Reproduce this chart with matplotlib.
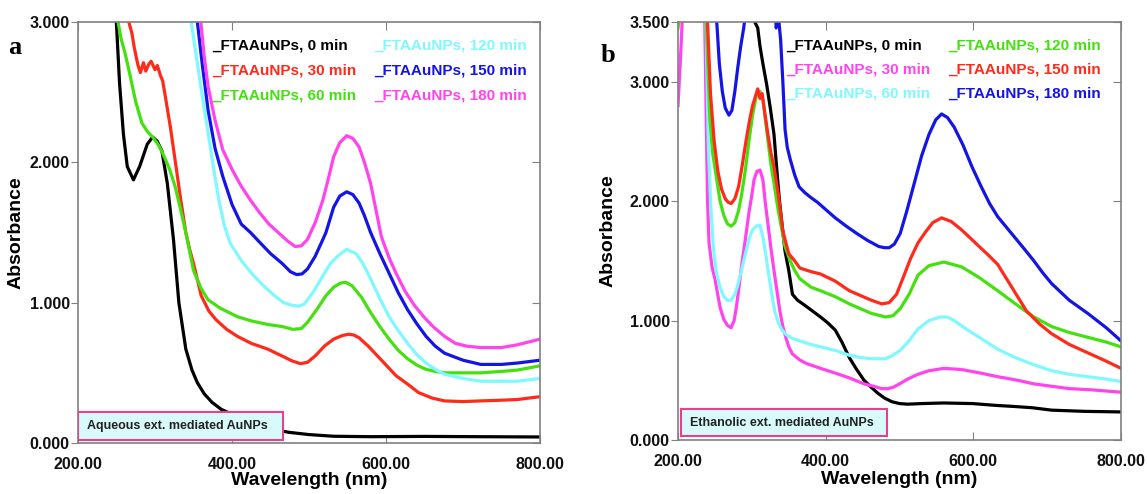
import matplotlib
matplotlib.use("Agg")
import matplotlib.pyplot as plt
from matplotlib.patches import Rectangle

plt.rcParams['font.family'] = ['Liberation Sans', 'DejaVu Sans']

# ---------------- panel a : aqueous extract ----------------
a_labels = ["FTAAuNPs, 0 min", "FTAAuNPs, 30 min", "FTAAuNPs, 60 min",
            "FTAAuNPs, 120 min", "FTAAuNPs, 150 min", "FTAAuNPs, 180 min"]
a_colors = ["#000000", "#ff2a1a", "#44e010", "#80f8ff", "#1414e6", "#ff44ee"]

a0_wl = [245, 250, 254, 259, 264, 272, 280, 290, 297, 303, 309, 316, 324, 331, 340, 348, 355,
         364, 374, 386, 398, 415, 436, 455, 474, 500, 532, 580, 650, 720, 800]
a0_ab = [3.3, 2.98, 2.56, 2.2, 1.97, 1.875, 1.97, 2.13, 2.18, 2.15, 2.08, 1.85, 1.45, 1.0, 0.67,
         0.52, 0.43, 0.35, 0.29, 0.24, 0.21, 0.16, 0.12, 0.095, 0.076, 0.06, 0.048, 0.045, 0.047,
         0.045, 0.043]

a30_wl = [262, 266, 270, 273, 276, 278, 281, 285, 288, 292, 295, 300, 303, 307, 310, 314, 320,
          326, 333, 340, 345, 350, 360, 370, 379, 393, 407, 425, 446, 465, 478, 489, 498, 508,
          520, 532, 543, 551, 558, 565, 577, 589, 601, 613, 628, 642, 660, 676, 700, 723, 750,
          771, 800]
a30_ab = [3.3, 3.0, 2.92, 2.82, 2.74, 2.69, 2.64, 2.71, 2.65, 2.70, 2.72, 2.66, 2.69, 2.62, 2.58,
          2.45, 2.25, 2.02, 1.75, 1.5, 1.38, 1.28, 1.05, 0.94, 0.88, 0.81, 0.76, 0.71, 0.67, 0.62,
          0.585, 0.565, 0.575, 0.62, 0.69, 0.74, 0.765, 0.775, 0.77, 0.75, 0.69, 0.62, 0.55,
          0.48, 0.42, 0.36, 0.32, 0.30, 0.295, 0.30, 0.305, 0.31, 0.33]

a60_wl = [248, 252, 256, 261, 268, 275, 283, 290, 297, 305, 312, 319, 326, 333, 340, 350, 360,
          369, 385, 407, 425, 446, 465, 479, 490, 498, 510, 522, 532, 541, 548, 556, 568, 580,
          592, 604, 616, 628, 640, 652, 664, 676, 700, 723, 750, 771, 800]
a60_ab = [3.3, 3.0, 2.88, 2.78, 2.61, 2.43, 2.28, 2.22, 2.18, 2.12, 2.04, 1.95, 1.83, 1.67, 1.5,
          1.23, 1.1, 1.02, 0.96, 0.90, 0.87, 0.845, 0.83, 0.81, 0.815, 0.86, 0.95, 1.05, 1.11,
          1.14, 1.145, 1.12, 1.04, 0.93, 0.83, 0.74, 0.66, 0.60, 0.555, 0.525, 0.51, 0.50, 0.50,
          0.50, 0.51, 0.52, 0.55]

a120_wl = [343, 347, 353, 359, 364, 369, 376, 383, 390, 398, 412, 427, 441, 455, 467, 479, 487,
           494, 506, 518, 528, 537, 549, 561, 570, 580, 592, 604, 616, 628, 640, 652, 664, 676,
           700, 723, 750, 771, 800]
a120_ab = [3.3, 3.0, 2.78, 2.56, 2.38, 2.21, 1.96, 1.73, 1.55, 1.42, 1.3, 1.2, 1.12, 1.05, 1.0,
           0.98, 0.975, 0.99, 1.08, 1.19, 1.28, 1.33, 1.38, 1.35, 1.28, 1.17, 1.03, 0.9, 0.8,
           0.71, 0.63, 0.57, 0.525, 0.49, 0.46, 0.44, 0.44, 0.44, 0.46]

a150_wl = [350, 355, 362, 369, 378, 388, 400, 412, 424, 436, 450, 465, 476, 484, 491, 498, 508,
           518, 522, 532, 540, 549, 557, 565, 572, 580, 592, 604, 616, 628, 640, 652, 664, 676,
           700, 723, 750, 771, 800]
a150_ab = [3.3, 3.0, 2.67, 2.37, 2.1, 1.9, 1.7, 1.56, 1.5, 1.43, 1.35, 1.28, 1.22, 1.2, 1.205,
           1.24, 1.33, 1.45, 1.5, 1.68, 1.76, 1.79, 1.77, 1.71, 1.62, 1.5, 1.35, 1.21, 1.07, 0.95,
           0.85, 0.76, 0.69, 0.64, 0.59, 0.56, 0.56, 0.57, 0.59]

a180_wl = [355, 359.5, 364, 369, 378, 388, 400, 412, 424, 436, 448, 460, 472, 482, 490, 498,
           508, 518, 525, 532, 540, 549, 557, 565, 572, 580, 587, 594, 604, 613, 625, 637, 649,
           661, 676, 690, 705, 723, 750, 771, 800]
a180_ab = [3.3, 3.0, 2.75, 2.54, 2.3, 2.09, 1.95, 1.83, 1.73, 1.64, 1.56, 1.5, 1.44, 1.40, 1.405,
           1.45, 1.57, 1.73, 1.88, 2.04, 2.14, 2.19, 2.17, 2.11, 2.0, 1.85, 1.66, 1.47, 1.32,
           1.21, 1.08, 0.98, 0.9, 0.83, 0.76, 0.71, 0.69, 0.68, 0.68, 0.70, 0.74]

# ---------------- panel b : ethanolic extract ----------------
b_labels = ["FTAAuNPs, 0 min", "FTAAuNPs, 30 min", "FTAAuNPs, 60 min",
            "FTAAuNPs, 120 min", "FTAAuNPs, 150 min", "FTAAuNPs, 180 min"]
b_colors = ["#000000", "#ff44ee", "#80f8ff", "#44e010", "#ff2a1a", "#1414e6"]

b0_wl = [292, 296, 300, 304, 308, 311, 315, 320, 325, 330, 334, 337.5, 341, 345, 350, 355, 362,
         369, 380, 393, 403, 413, 422, 432, 442, 452, 462, 471, 480, 490, 500, 511, 530, 560, 599,
         630, 657, 680, 706, 750, 800]
b0_ab = [3.7, 3.52, 3.6, 3.5, 3.45, 3.3, 3.15, 2.98, 2.78, 2.56, 2.25, 2.0, 1.8, 1.58, 1.42,
         1.22, 1.17, 1.14, 1.09, 1.03, 0.98, 0.92, 0.82, 0.69, 0.59, 0.5, 0.44, 0.39, 0.35, 0.32,
         0.305, 0.30, 0.305, 0.31, 0.305, 0.29, 0.28, 0.27, 0.25, 0.24, 0.235]

b30_wl = [200, 203, 206, 220, 236, 238, 240, 242, 246, 250, 257, 262, 267, 272, 276, 279, 283,
          286, 291, 296, 300, 303, 307, 311, 315, 318, 322, 326, 330, 334, 338, 342, 346, 350,
          355, 365, 374, 393, 413, 432, 452, 465, 476, 484, 491, 500, 511, 525, 540, 560, 584,
          610, 633, 660, 682, 706, 730, 760, 800]
b30_ab = [2.8, 3.15, 3.55, 4.5, 3.6, 2.8, 2.0, 1.65, 1.45, 1.35, 1.11, 1.01, 0.96, 0.94, 1.0,
          1.11, 1.3, 1.45, 1.67, 1.9, 2.05, 2.18, 2.25, 2.26, 2.18, 2.0, 1.8, 1.6, 1.42, 1.25,
          1.08, 0.95, 0.86, 0.78, 0.72, 0.67, 0.64, 0.6, 0.56, 0.52, 0.47, 0.45, 0.43, 0.43,
          0.44, 0.47, 0.51, 0.55, 0.58, 0.6, 0.59, 0.56, 0.53, 0.5, 0.47, 0.45, 0.43, 0.42, 0.40]

b60_wl = [200, 230, 238, 241, 244, 248, 252, 257, 262, 267, 272, 277, 281, 286, 291, 296, 301,
          306, 311, 315, 319, 323, 327, 331, 336, 341, 347, 355, 365, 380, 393, 413, 432, 447,
          462, 481, 491, 501, 513, 525, 540, 555, 565, 574, 590, 608, 633, 657, 682, 706, 730,
          755, 780, 800]
b60_ab = [4.0, 4.5, 3.5, 2.5, 2.0, 1.6, 1.4, 1.28, 1.2, 1.17, 1.17, 1.22, 1.3, 1.42, 1.55, 1.68,
          1.76, 1.79, 1.8, 1.7, 1.55, 1.38, 1.22, 1.08, 0.98, 0.92, 0.88, 0.85, 0.83, 0.8, 0.78,
          0.75, 0.71, 0.69, 0.68, 0.68, 0.71, 0.75, 0.83, 0.93, 1.0, 1.03, 1.03, 1.0, 0.93, 0.86,
          0.76, 0.69, 0.63, 0.58, 0.55, 0.53, 0.51, 0.49]

b120_wl = [200, 203, 210, 236, 240, 243, 247, 252, 257, 262, 267, 272, 277, 282, 286, 291, 296,
           301, 306, 311, 315, 318, 322, 326, 330, 335, 340, 345, 352, 358, 365, 380, 393, 413,
           432, 447, 462, 481, 491, 501, 513, 525, 540, 560, 584, 608, 633, 657, 682, 706, 730,
           755, 780, 800]
b120_ab = [3.45, 3.6, 4.5, 4.0, 3.2, 2.7, 2.4, 2.2, 2.0, 1.88, 1.81, 1.79, 1.82, 1.92, 2.05,
           2.25, 2.5, 2.72, 2.88, 2.92, 2.85, 2.7, 2.5, 2.3, 2.15, 1.95, 1.78, 1.62, 1.5, 1.42,
           1.35, 1.28, 1.25, 1.2, 1.14, 1.1, 1.06, 1.03, 1.04, 1.1, 1.22, 1.38, 1.46, 1.49, 1.45,
           1.36, 1.25, 1.14, 1.03, 0.95, 0.9, 0.86, 0.82, 0.78]

b150_wl = [236, 240, 244, 249, 254, 259, 264, 268, 272, 277, 282, 287, 292, 297, 301, 305, 308,
           311, 314, 318, 322, 326, 330, 336, 342, 350, 358, 365, 380, 393, 413, 432, 447, 462,
           476, 486, 496, 505, 515, 525, 535, 545, 557, 570, 584, 596, 608, 620, 633, 650, 672,
           690, 706, 730, 755, 780, 800]
b150_ab = [4.0, 3.5, 2.9, 2.5, 2.25, 2.1, 2.02, 1.99, 1.98, 2.02, 2.12, 2.3, 2.5, 2.68, 2.8,
           2.88, 2.94, 2.86, 2.9, 2.72, 2.55, 2.4, 2.29, 2.05, 1.75, 1.56, 1.5, 1.44, 1.41, 1.39,
           1.33, 1.25, 1.21, 1.17, 1.14, 1.15, 1.22, 1.36, 1.52, 1.65, 1.74, 1.82, 1.86, 1.83,
           1.76, 1.69, 1.62, 1.55, 1.47, 1.3, 1.08, 0.97, 0.89, 0.8, 0.73, 0.66, 0.6]

b180_wl = [250, 253, 256, 260, 264, 269, 273, 277, 281, 285, 289, 292, 300, 330, 333, 336, 339,
           342, 345, 348, 352, 358, 364, 372, 380, 389, 400, 413, 428, 442, 457, 472, 480, 486,
           493, 501, 510, 520, 530, 540, 549, 557, 565, 574, 586, 598, 610, 622, 633, 645, 657,
           669, 682, 694, 706, 730, 755, 780, 800]
b180_ab = [3.7, 3.45, 3.15, 2.92, 2.78, 2.72, 2.76, 2.92, 3.12, 3.3, 3.45, 3.6, 4.2, 3.8, 3.45,
           3.55, 3.35, 3.0, 2.6, 2.45, 2.35, 2.22, 2.12, 2.07, 2.03, 1.99, 1.93, 1.86, 1.79, 1.73,
           1.67, 1.62, 1.61, 1.61, 1.64, 1.73, 1.92, 2.15, 2.38, 2.56, 2.68, 2.73, 2.70, 2.62,
           2.47, 2.29, 2.13, 1.98, 1.87, 1.78, 1.69, 1.6, 1.5, 1.4, 1.31, 1.17, 1.06, 0.94, 0.83]

x_ticks = [200, 400, 600, 800]
a_yticks = [0, 1, 2, 3]
b_yticks = [0, 1, 2, 3, 3.5]

a_series = [(a0_wl, a0_ab), (a30_wl, a30_ab), (a60_wl, a60_ab),
            (a120_wl, a120_ab), (a150_wl, a150_ab), (a180_wl, a180_ab)]
b_series = [(b0_wl, b0_ab), (b30_wl, b30_ab), (b60_wl, b60_ab),
            (b120_wl, b120_ab), (b150_wl, b150_ab), (b180_wl, b180_ab)]

W, H = 1147, 494
fig = plt.figure(figsize=(W / 100, H / 100), dpi=100)

def px_axes(l, r, t, b):
    return fig.add_axes([l / W, 1 - b / H, (r - l) / W, (b - t) / H])

frame = "#808080"

def style(ax, yticks, ymax, ylab_x, xlab_y):
    ax.set_xlim(200, 800)
    ax.set_ylim(0, ymax)
    ax.set_xticks(x_ticks)
    ax.set_xticklabels(["%.2f" % v for v in x_ticks])
    ax.set_yticks(yticks)
    ax.set_yticklabels(["%.3f" % v for v in yticks])
    for s in ax.spines.values():
        s.set_color(frame)
        s.set_linewidth(1.2)
    ax.tick_params(axis="x", direction="in", length=6, color=frame, pad=10,
                   top=True, bottom=True)
    ax.tick_params(axis="y", direction="out", length=5, color=frame, pad=1)
    sec = ax.secondary_yaxis("right")
    sec.set_yticks(yticks)
    sec.tick_params(direction="in", length=6, color=frame, labelright=False)
    sec.spines["right"].set_visible(False)
    for lab in ax.get_xticklabels() + ax.get_yticklabels():
        lab.set_fontweight("bold")
        lab.set_fontsize(11.5)
        lab.set_color("#111111")
    ax.set_xlabel("Wavelength (nm)", fontsize=14, fontweight="bold")
    ax.set_ylabel("Absorbance", fontsize=14, fontweight="bold")
    ax.yaxis.set_label_coords(ylab_x, 0.5)
    ax.xaxis.set_label_coords(0.5, xlab_y)

def legend_texts(ax, labels, colors, x1, x2, ys):
    for i, (lab, c) in enumerate(zip(labels, colors)):
        x = x1 if i < 3 else x2
        y = ys[i % 3]
        ax.text(x, y, "_" + lab, color=c, fontsize=11, fontweight="bold",
                transform=ax.transAxes, va="center", ha="left")

def note_box(ax, x0, x1, y0, y1, text):
    ax.add_patch(Rectangle((x0, y0), x1 - x0, y1 - y0, transform=ax.transAxes,
                           facecolor="#d8fafa", edgecolor="#e8408c", lw=1.5, zorder=5))
    ax.text(x0 + 0.02, (y0 + y1) / 2, text, transform=ax.transAxes, fontsize=9,
            fontweight="bold", color="#222222", va="center", ha="left", zorder=6)

# panel a
axa = px_axes(78, 540, 22, 443)
for (wl, ab), c in zip(a_series, a_colors):
    axa.plot(wl, ab, color=c, lw=2.3, solid_joinstyle="round")
style(axa, a_yticks, 3.0, -0.115, -0.068)
legend_texts(axa, a_labels, a_colors, 0.29, 0.64, [0.945, 0.885, 0.825])
note_box(axa, 0.0, 0.444, 0.007, 0.074, "Aqueous ext. mediated AuNPs")
fig.text(8 / W, 1 - 54 / H, "a", fontsize=19, fontweight="bold",
         family="Liberation Serif")

# panel b
axb = px_axes(678, 1121, 22, 440)
for (wl, ab), c in zip(b_series, b_colors):
    axb.plot(wl, ab, color=c, lw=2.3, solid_joinstyle="round")
style(axb, b_yticks, 3.5, -0.138, -0.075)
legend_texts(axb, b_labels, b_colors, 0.245, 0.61, [0.943, 0.886, 0.829])
note_box(axb, 0.007, 0.472, 0.0096, 0.074, "Ethanolic ext. mediated AuNPs")
fig.text(601 / W, 1 - 62 / H, "b", fontsize=19, fontweight="bold",
         family="Liberation Serif")

fig.savefig("out.png", dpi=100)
